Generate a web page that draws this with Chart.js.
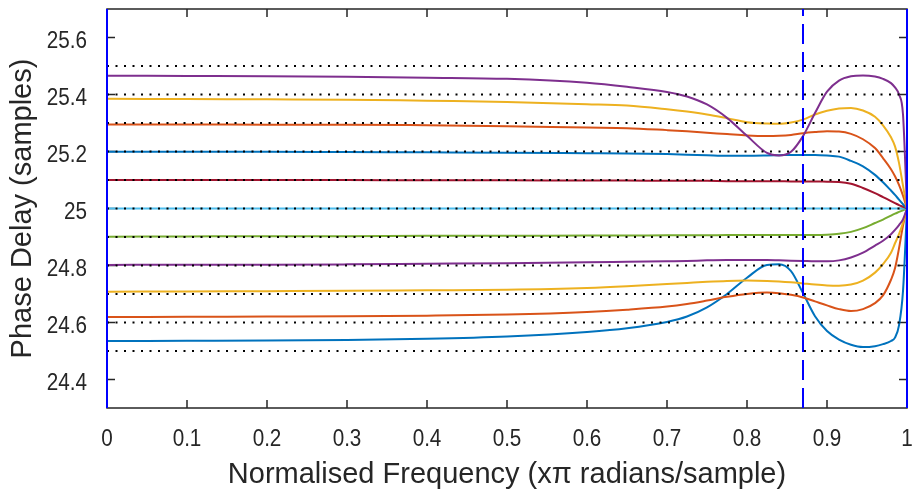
<!DOCTYPE html>
<html>
<head>
<meta charset="utf-8">
<title>Phase delay</title>
<script src="https://cdn.jsdelivr.net/npm/chart.js@4.4.1/dist/chart.umd.min.js"></script>
<style>
  html, body { margin: 0; padding: 0; background: #fff; }
  #wrap { width: 915px; height: 497px; }
</style>
</head>
<body>
<div id="wrap"><canvas id="delayChart" width="915" height="497"></canvas></div>
<script>
// normalised frequency grid (x pi rad/sample)
const freq = [0, 0.1, 0.2, 0.3, 0.4, 0.5, 0.6, 0.65, 0.7, 0.725, 0.75, 0.775, 0.8, 0.825, 0.84,
  0.855, 0.87, 0.885, 0.9, 0.915, 0.93, 0.945, 0.96, 0.97, 0.98, 0.985, 0.99, 0.995, 1];

// phase delay of each fractional-delay filter, one array per target delay
const pd255 = [25.466, 25.465, 25.464, 25.462, 25.459, 25.455, 25.441, 25.427, 25.409, 25.393, 25.365, 25.318, 25.255, 25.195, 25.186,
  25.199, 25.254, 25.335, 25.410, 25.449, 25.464, 25.467, 25.463, 25.455, 25.440, 25.425, 25.400, 25.330, 25.0];
const pd254 = [25.385, 25.384, 25.383, 25.382, 25.378, 25.374, 25.366, 25.361, 25.348, 25.340, 25.330, 25.317, 25.303, 25.298, 25.297,
  25.302, 25.312, 25.330, 25.343, 25.351, 25.353, 25.344, 25.322, 25.292, 25.250, 25.218, 25.160, 25.080, 25.0];
const pd253 = [25.295, 25.295, 25.294, 25.294, 25.292, 25.289, 25.284, 25.282, 25.275, 25.271, 25.266, 25.261, 25.256, 25.254, 25.255,
  25.258, 25.264, 25.268, 25.271, 25.270, 25.262, 25.243, 25.212, 25.177, 25.138, 25.113, 25.083, 25.045, 25.0];
const pd252 = [25.199, 25.199, 25.199, 25.198, 25.197, 25.196, 25.194, 25.193, 25.191, 25.189, 25.187, 25.185, 25.185, 25.186, 25.187,
  25.188, 25.188, 25.188, 25.186, 25.182, 25.167, 25.148, 25.118, 25.092, 25.063, 25.048, 25.031, 25.015, 25.0];
const pd251 = [25.100, 25.100, 25.100, 25.100, 25.099, 25.099, 25.098, 25.098, 25.097, 25.097, 25.097, 25.096, 25.096, 25.096, 25.096,
  25.095, 25.095, 25.095, 25.094, 25.093, 25.087, 25.072, 25.054, 25.040, 25.026, 25.019, 25.012, 25.006, 25.0];
const pd250 = [25.0, 25.0, 25.0, 25.0, 25.0, 25.0, 25.0, 25.0, 25.0, 25.0, 25.0, 25.0, 25.0, 25.0, 25.0,
  25.0, 25.0, 25.0, 25.0, 25.0, 25.0, 25.0, 25.0, 25.0, 25.0, 25.0, 25.0, 25.0, 25.0];
const pd249 = [24.901, 24.902, 24.903, 24.903, 24.904, 24.904, 24.905, 24.905, 24.906, 24.906, 24.906, 24.907, 24.907, 24.907, 24.907,
  24.907, 24.907, 24.907, 24.908, 24.911, 24.918, 24.931, 24.949, 24.961, 24.975, 24.982, 24.988, 24.994, 25.0];
const pd248 = [24.802, 24.803, 24.803, 24.804, 24.806, 24.808, 24.811, 24.813, 24.815, 24.816, 24.818, 24.819, 24.819, 24.819, 24.818,
  24.817, 24.816, 24.815, 24.815, 24.818, 24.828, 24.845, 24.870, 24.887, 24.910, 24.925, 24.942, 24.962, 25.0];
const pd247 = [24.708, 24.709, 24.710, 24.711, 24.713, 24.715, 24.721, 24.727, 24.735, 24.739, 24.743, 24.746, 24.747, 24.746, 24.744,
  24.741, 24.737, 24.733, 24.730, 24.729, 24.733, 24.747, 24.775, 24.805, 24.845, 24.878, 24.910, 24.950, 25.0];
const pd246 = [24.619, 24.620, 24.621, 24.622, 24.624, 24.628, 24.637, 24.645, 24.656, 24.665, 24.677, 24.690, 24.700, 24.705, 24.703,
  24.697, 24.688, 24.674, 24.660, 24.647, 24.640, 24.647, 24.668, 24.695, 24.750, 24.790, 24.860, 24.940, 25.0];
const pd245 = [24.535, 24.536, 24.537, 24.539, 24.543, 24.551, 24.567, 24.580, 24.602, 24.621, 24.653, 24.700, 24.757, 24.802, 24.804,
  24.780, 24.703, 24.622, 24.570, 24.540, 24.522, 24.514, 24.517, 24.524, 24.535, 24.547, 24.590, 24.710, 25.0];

// ideal delays, drawn as dotted reference levels
const targetDelays = [24.5, 24.6, 24.7, 24.8, 24.9, 25.0, 25.1, 25.2, 25.3, 25.4, 25.5];

const xTicks = [0, 0.1, 0.2, 0.3, 0.4, 0.5, 0.6, 0.7, 0.8, 0.9, 1];
const yTicks = [24.4, 24.6, 24.8, 25.0, 25.2, 25.4, 25.6];
const yMin = 24.3, yMax = 25.7;
const bandEdges = [0, 1];
const cutoff = 0.87;

const curves = [
  { d: pd255, c: '#7E2F8E' },
  { d: pd254, c: '#EDB120' },
  { d: pd253, c: '#D95319' },
  { d: pd252, c: '#0072BD' },
  { d: pd251, c: '#A2142F' },
  { d: pd250, c: '#4DBEEE' },
  { d: pd249, c: '#77AC30' },
  { d: pd248, c: '#7E2F8E' },
  { d: pd247, c: '#EDB120' },
  { d: pd246, c: '#D95319' },
  { d: pd245, c: '#0072BD' }
];

const AXIS = '#262626';
const FONT = "'Liberation Sans', Arial, sans-serif";
const titleFont = { family: FONT, size: 29 };

const datasets = [];
curves.forEach(s => datasets.push({
  data: freq.map((f, i) => ({ x: f, y: s.d[i] })),
  borderColor: s.c, borderWidth: 2, pointRadius: 0,
  cubicInterpolationMode: 'monotone', order: 3
}));
targetDelays.forEach(v => datasets.push({
  data: [{ x: 0, y: v }, { x: 1, y: v }],
  borderColor: '#000', borderWidth: 2, borderDash: [2, 6.5], pointRadius: 0, order: 2
}));
bandEdges.forEach(f => datasets.push({
  data: [{ x: f, y: yMin }, { x: f, y: yMax }],
  borderColor: '#0000FF', borderWidth: 2, pointRadius: 0, clip: false, order: 1
}));
datasets.push({
  data: [{ x: cutoff, y: yMin }, { x: cutoff, y: yMax }],
  borderColor: '#0000FF', borderWidth: 2, borderDash: [20, 8], pointRadius: 0, order: 1
});

const fmt = v => String(Math.round(v * 10) / 10);

// box round the plot with inward ticks on all four sides
const boxAxes = {
  id: 'boxAxes',
  beforeDatasetsDraw(chart) {
    const { ctx, chartArea: a, scales: { x, y } } = chart;
    const tl = 8;
    ctx.save();
    ctx.strokeStyle = AXIS;
    ctx.lineWidth = 1.5;
    ctx.strokeRect(a.left, a.top, a.right - a.left, a.bottom - a.top);
    ctx.beginPath();
    x.ticks.forEach(t => {
      const px = x.getPixelForValue(t.value);
      ctx.moveTo(px, a.bottom); ctx.lineTo(px, a.bottom - tl);
      ctx.moveTo(px, a.top); ctx.lineTo(px, a.top + tl);
    });
    y.ticks.forEach(t => {
      const py = y.getPixelForValue(t.value);
      ctx.moveTo(a.left, py); ctx.lineTo(a.left + tl, py);
      ctx.moveTo(a.right, py); ctx.lineTo(a.right - tl, py);
    });
    ctx.stroke();
    ctx.restore();
  },
  // tick labels in a slightly condensed face
  afterDraw(chart) {
    const { ctx, chartArea: a, scales: { x, y } } = chart;
    const squeeze = 0.88;
    ctx.save();
    ctx.fillStyle = AXIS;
    ctx.font = `23.5px ${FONT}`;
    ctx.textBaseline = 'alphabetic';
    ctx.textAlign = 'center';
    x.ticks.forEach(t => {
      ctx.save();
      ctx.translate(x.getPixelForValue(t.value), a.bottom + 38);
      ctx.scale(squeeze, 1);
      ctx.fillText(fmt(t.value), 0, 0);
      ctx.restore();
    });
    ctx.textAlign = 'right';
    y.ticks.forEach(t => {
      ctx.save();
      ctx.translate(a.left - 20, y.getPixelForValue(t.value) + 10);
      ctx.scale(squeeze, 1);
      ctx.fillText(fmt(t.value), 0, 0);
      ctx.restore();
    });
    ctx.restore();
  }
};

const noPad = s => { s.paddingLeft = 0; s.paddingRight = 0; s.paddingTop = 0; s.paddingBottom = 0; };

new Chart(document.getElementById('delayChart'), {
  type: 'line',
  data: { datasets },
  options: {
    responsive: false,
    animation: false,
    layout: { padding: { top: 9, right: 8, left: 0, bottom: 0 } },
    plugins: { legend: { display: false }, tooltip: { enabled: false } },
    scales: {
      x: {
        type: 'linear', min: 0, max: 1,
        afterBuildTicks: s => { s.ticks = xTicks.map(v => ({ value: v })); },
        afterFit: s => { s.height = 89; noPad(s); },
        grid: { display: false, drawTicks: false },
        border: { display: false },
        ticks: { display: false },
        title: {
          display: true, text: 'Normalised Frequency (x\u03C0 radians/sample)',
          color: AXIS, font: titleFont, padding: { top: 0, bottom: 5 }
        }
      },
      y: {
        type: 'linear', min: yMin, max: yMax,
        afterBuildTicks: s => { s.ticks = yTicks.map(v => ({ value: v })); },
        afterFit: s => { s.width = 107; noPad(s); },
        grid: { display: false, drawTicks: false },
        border: { display: false },
        ticks: { display: false },
        title: {
          display: true, text: 'Phase Delay (samples)',
          color: AXIS, font: titleFont, padding: { top: 6, bottom: 0 }
        }
      }
    }
  },
  plugins: [boxAxes]
});
</script>
</body>
</html>
